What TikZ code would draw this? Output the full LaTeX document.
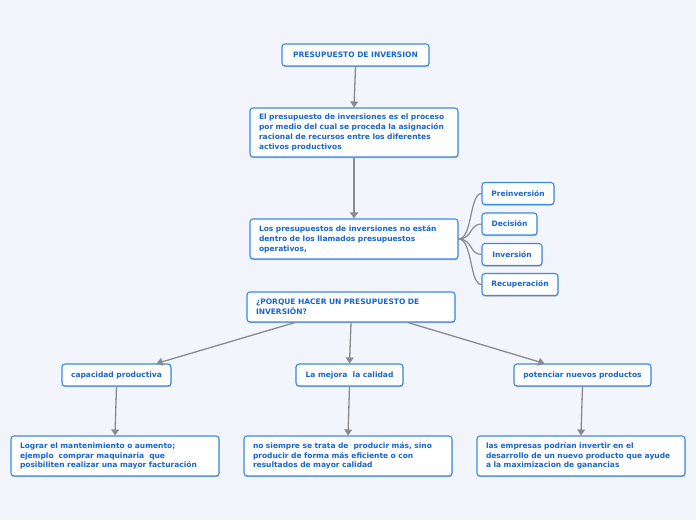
\documentclass[tikz,border=0pt]{standalone}
\usepackage{fontspec}
\setmainfont{DejaVu Sans}
\usetikzlibrary{arrows.meta,calc,shadows}
\definecolor{bgcol}{HTML}{F2F5FC}
\definecolor{bordercol}{HTML}{3A89E4}
\definecolor{textcol}{HTML}{1766CC}
\definecolor{linecol}{HTML}{8A8A8E}
\tikzset{
  box/.style={draw=bordercol, fill=white, rounded corners=3pt, line width=1.1pt,
    font=\fontsize{7.5}{9.8}\selectfont\bfseries, text=textcol, inner xsep=9pt, inner ysep=0pt,
    drop shadow={shadow xshift=0.4pt, shadow yshift=-1.2pt, opacity=0.25, fill=black}},
  wide/.style={box, text width=190pt, align=left, minimum height=#1},
  small/.style={box, minimum height=22pt, align=center, inner xsep=0pt},
  arr/.style={draw=linecol, line width=1.3pt, -{Triangle[width=8pt,length=6pt]}},
  curve/.style={draw=linecol, line width=1.2pt}
}
\begin{document}
\begin{tikzpicture}[x=1pt,y=-1pt]
\fill[bgcol] (0,0) rectangle (696,520);
\useasboundingbox (0,0) rectangle (696,520);

\node[small, minimum width=147pt] (n1) at (355.5,55) {PRESUPUESTO DE INVERSION};
\node[wide=49pt] (n2) at (354,132.5) {El presupuesto de inversiones es el proceso\\por medio del cual se proceda la asignación\\racional de recursos entre los diferentes\\activos productivos};
\node[wide=40pt] (n3) at (354,239) {Los presupuestos de inversiones no están\\dentro de los llamados presupuestos\\operativos,};
\node[small, minimum width=72pt] (n4) at (518,193.5) {Preinversión};
\node[small, minimum width=55pt] (n5) at (509.5,224) {Decisión};
\node[small, minimum width=60pt] (n6) at (512,254.5) {Inversión};
\node[small, minimum width=76pt] (n7) at (520,284.5) {Recuperación};
\node[wide=30pt] (n8) at (351,307) {¿PORQUE HACER UN PRESUPUESTO DE\\INVERSIÓN?};
\node[small, minimum width=109pt] (n9) at (116.5,375) {capacidad productiva};
\node[small, minimum width=107pt] (n10) at (349.5,375) {La mejora\ \ la calidad};
\node[small, minimum width=137pt] (n11) at (582.5,375) {potenciar nuevos productos};
\node[wide=40pt] (n12) at (115,456) {Lograr el mantenimiento o aumento;\\ejemplo\ \ comprar maquinaria\ \ que\\posibiliten realizar una mayor facturación};
\node[wide=40pt] (n13) at (348,456) {no siempre se trata de\ \ producir más, sino\\producir de forma más eficiente o con\\resultados de mayor calidad};
\node[wide=40pt] (n14) at (581,456) {las empresas podrían invertir en el\\desarrollo de un nuevo producto que ayude\\a la maximizacion de ganancias};

\draw[arr] (n1.south) -- (n2.north);
\draw[arr] (n2.south) -- (n3.north);
\foreach \t in {n4,n5,n6,n7}
  \draw[curve] (n3.east) .. controls +(14,0) and +(-12,0) .. (\t.west);
\draw[arr] ($(n8.south)+(-56,0)$) -- ($(n9.north east)+(-15,0)$);
\draw[arr] ($(n8.south)+(0,0)$) -- ($(n10.north)+(0,0)$);
\draw[arr] ($(n8.south)+(57,0)$) -- ($(n11.north west)+(31,0)$);
\draw[arr] (n9.south) -- (n12.north);
\draw[arr] (n10.south) -- (n13.north);
\draw[arr] (n11.south) -- (n14.north);
\end{tikzpicture}
\end{document}
